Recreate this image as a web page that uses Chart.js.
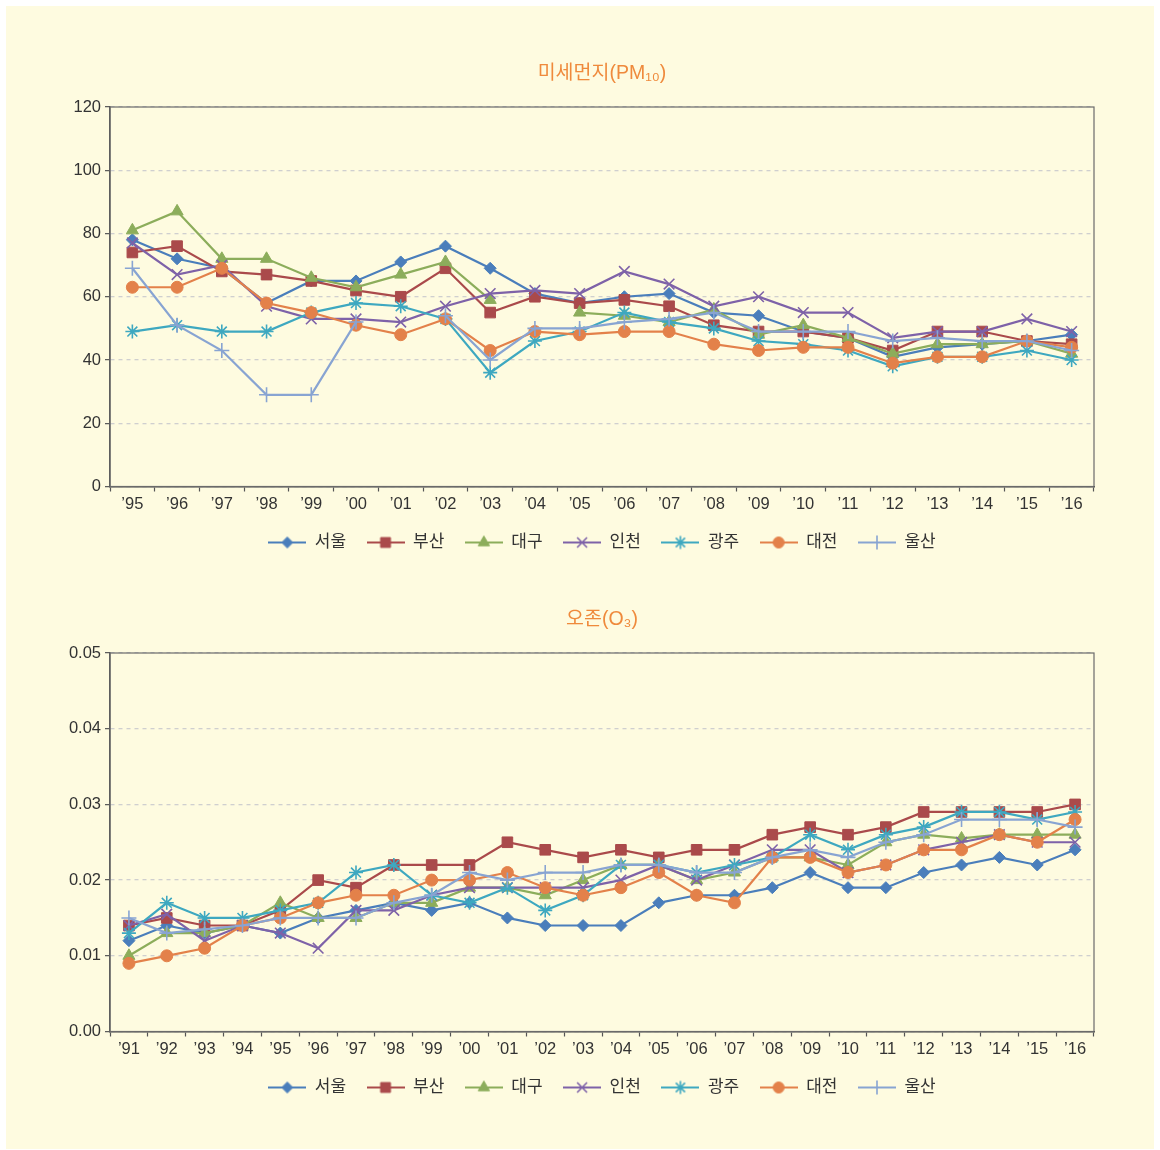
<!DOCTYPE html>
<html lang="ko">
<head>
<meta charset="utf-8">
<title>미세먼지·오존 연평균 농도</title>
<script src="https://cdn.jsdelivr.net/npm/chart.js@4.4.1/dist/chart.umd.min.js"></script>
<style>
  html, body { margin: 0; padding: 0; background: #ffffff; }
  body { width: 1160px; height: 1150px; position: relative; overflow: hidden; }
  #panel { position: absolute; left: 6px; top: 6px; width: 1148px; height: 1143px; background: #fefbe0; }
  #pm { position: absolute; left: 0; top: 0; }
  #o3 { position: absolute; left: 0; top: 560px; }
</style>
</head>
<body>
<div id="panel"></div>
<canvas id="pm" width="1160" height="561"></canvas>
<canvas id="o3" width="1160" height="546"></canvas>
<script>
// ---- data ----
const cities = ['서울', '부산', '대구', '인천', '광주', '대전', '울산'];

const pmYears = ['’95','’96','’97','’98','’99','’00','’01','’02','’03','’04','’05',
                 '’06','’07','’08','’09','’10','’11','’12','’13','’14','’15','’16'];
const pmSeoul   = [78, 72, 69, 58, 65, 65, 71, 76, 69, 61, 58, 60, 61, 55, 54, 49, 47, 41, 44, 45, 46, 48];
const pmBusan   = [74, 76, 68, 67, 65, 62, 60, 69, 55, 60, 58, 59, 57, 51, 49, 49, 47, 43, 49, 49, 46, 45];
const pmDaegu   = [81, 87, 72, 72, 66, 63, 67, 71, 59, null, 55, 54, 52, 56, 48, 51, 47, 42, 45, 45, 46, 42];
const pmIncheon = [77, 67, 70, 57, 53, 53, 52, 57, 61, 62, 61, 68, 64, 57, 60, 55, 55, 47, 49, 49, 53, 49];
const pmGwangju = [49, 51, 49, 49, 55, 58, 57, 53, 36, 46, 49, 55, 52, 50, 46, 45, 43, 38, 41, 41, 43, 40];
const pmDaejeon = [63, 63, 69, 58, 55, 51, 48, 53, 43, 49, 48, 49, 49, 45, 43, 44, 44, 39, 41, 41, 46, 44];
const pmUlsan   = [69, 51, 43, 29, 29, 52, null, 54, 40, 50, 50, 52, 53, 55, 49, 49, 49, 46, 47, 46, 46, 43];

const o3Years = ['’91','’92','’93','’94','’95','’96','’97','’98','’99','’00','’01','’02','’03',
                 '’04','’05','’06','’07','’08','’09','’10','’11','’12','’13','’14','’15','’16'];
const o3Seoul   = [0.012, 0.014, 0.013, 0.014, 0.013, 0.015, 0.016, 0.017, 0.016, 0.017, 0.015, 0.014, 0.014,
                   0.014, 0.017, 0.018, 0.018, 0.019, 0.021, 0.019, 0.019, 0.021, 0.022, 0.023, 0.022, 0.024];
const o3Busan   = [0.014, 0.015, 0.014, 0.014, 0.016, 0.020, 0.019, 0.022, 0.022, 0.022, 0.025, 0.024, 0.023,
                   0.024, 0.023, 0.024, 0.024, 0.026, 0.027, 0.026, 0.027, 0.029, 0.029, 0.029, 0.029, 0.030];
const o3Daegu   = [0.010, 0.013, 0.013, 0.014, 0.017, 0.015, 0.015, 0.017, 0.017, 0.019, 0.019, 0.018, 0.020,
                   0.022, 0.022, 0.020, 0.021, 0.023, 0.023, 0.022, 0.025, 0.026, 0.0255, 0.026, 0.026, 0.026];
const o3Incheon = [0.014, 0.0155, 0.012, 0.014, 0.013, 0.011, 0.016, 0.016, 0.018, 0.019, 0.019, 0.019, 0.019,
                   0.020, 0.022, 0.020, 0.022, 0.024, 0.024, 0.021, 0.022, 0.024, 0.025, 0.026, 0.025, 0.025];
const o3Gwangju = [0.013, 0.017, 0.015, 0.015, 0.016, 0.017, 0.021, 0.022, 0.018, 0.017, 0.019, 0.016, 0.018,
                   0.022, 0.022, 0.021, 0.022, 0.023, 0.026, 0.024, 0.026, 0.027, 0.029, 0.029, 0.028, 0.029];
const o3Daejeon = [0.009, 0.010, 0.011, 0.014, 0.015, 0.017, 0.018, 0.018, 0.020, 0.020, 0.021, 0.019, 0.018,
                   0.019, 0.021, 0.018, 0.017, 0.023, 0.023, 0.021, 0.022, 0.024, 0.024, 0.026, 0.025, 0.028];
const o3Ulsan   = [0.015, 0.013, 0.0135, 0.014, 0.015, 0.015, 0.015, 0.017, 0.018, 0.021, 0.020, 0.021, 0.021,
                   0.022, 0.022, 0.021, 0.021, 0.023, 0.024, 0.023, 0.025, 0.026, 0.028, 0.028, 0.028, 0.027];

// ---- styling ----
const FONT = "'Liberation Sans', 'Noto Sans CJK KR', 'DejaVu Sans', sans-serif";
const colors = ['#4a7ebb', '#aa4a4b', '#8cad5b', '#7e62a8', '#3ea8c0', '#e3814a', '#88a4d2'];
const marks = [
  { style: 'rectRot',  r: 6,   bw: 1 },
  { style: 'rect',     r: 7.5, bw: 1 },
  { style: 'triangle', r: 7,   bw: 1 },
  { style: 'crossRot', r: 7.5, bw: 1.6 },
  { style: 'star',     r: 7,   bw: 1.6 },
  { style: 'circle',   r: 6,   bw: 1 },
  { style: 'cross',    r: 7.5, bw: 1.6 }
];

// legend symbol: a short line with the series marker in its middle
function legendIcon(i) {
  const c = document.createElement('canvas');
  c.width = 38; c.height = 16;
  const g = c.getContext('2d');
  g.strokeStyle = colors[i];
  g.fillStyle = colors[i];
  g.lineWidth = 2.2;
  g.beginPath(); g.moveTo(0, 8); g.lineTo(38, 8); g.stroke();
  g.lineWidth = marks[i].bw;
  Chart.helpers.drawPoint(g, { pointStyle: marks[i].style, radius: marks[i].r - 0.5, borderWidth: marks[i].bw, rotation: 0 }, 19, 8);
  return c;
}
const icons = cities.map((_, i) => legendIcon(i));

// plot frame (top and right edges included)
const frame = {
  id: 'frame',
  beforeDatasetsDraw(chart) {
    const { ctx, chartArea: a } = chart;
    ctx.save();
    ctx.strokeStyle = '#6a6a6a';
    ctx.lineWidth = 1.2;
    ctx.strokeRect(a.left, a.top, a.width, a.height);
    ctx.restore();
  }
};

// keep title and legend centred over the plot area
const centerBlocks = {
  id: 'centerBlocks',
  afterLayout(chart) {
    const { left, right } = chart.chartArea;
    [chart.titleBlock, chart.legend].forEach(b => {
      if (b) { b.left = left; b.right = right; b.width = right - left; }
    });
  }
};

function makeChart(id, cfg) {
  return new Chart(document.getElementById(id), {
    type: 'line',
    data: {
      labels: cfg.labels,
      datasets: cfg.series.map((vals, i) => ({
        label: cities[i],
        data: vals,
        borderColor: colors[i],
        backgroundColor: colors[i],
        borderWidth: 2.2,
        pointStyle: marks[i].style,
        pointRadius: marks[i].r,
        pointHoverRadius: marks[i].r,
        pointBackgroundColor: colors[i],
        pointBorderColor: colors[i],
        pointBorderWidth: marks[i].bw,
        tension: 0,
        spanGaps: false,
        order: cities.length - i
      }))
    },
    options: {
      responsive: false,
      animation: false,
      events: [],
      layout: { padding: { left: 0, right: 66, top: 0, bottom: 0 } },
      plugins: {
        title: {
          display: true,
          text: cfg.title,
          color: '#ef8a3c',
          font: { family: FONT, size: 19.5, weight: 'normal' },
          padding: { top: cfg.titleTop, bottom: 21.3 }
        },
        legend: {
          position: 'bottom',
          labels: {
            usePointStyle: true,
            pointStyleWidth: 38,
            padding: 20.5,
            color: '#333333',
            font: { family: FONT, size: 17 },
            generateLabels: chart => chart.data.datasets.map((ds, i) => ({
              text: ds.label,
              pointStyle: icons[i],
              fillStyle: 'rgba(0,0,0,0)',
              strokeStyle: 'rgba(0,0,0,0)',
              lineWidth: 0,
              hidden: false,
              datasetIndex: i,
              fontColor: '#333333'
            }))
          }
        },
        tooltip: { enabled: false }
      },
      scales: {
        x: {
          offset: true,
          grid: { display: true, offset: true, drawOnChartArea: false, drawTicks: true,
                  tickLength: 5, tickColor: '#555555', tickWidth: 1.2 },
          border: { color: '#4d4d4d', width: 1.5 },
          ticks: { color: '#333333', font: { family: FONT, size: 16.5 }, padding: 3,
                   autoSkip: false, maxRotation: 0 },
          afterFit: s => { s.height = 27; }
        },
        y: {
          min: cfg.min, max: cfg.max,
          ticks: { stepSize: cfg.step, color: '#333333', font: { family: FONT, size: 16.5 },
                   padding: 4, callback: cfg.fmt },
          grid: { color: '#cfcfcf', lineWidth: 1.3, tickLength: 5, tickColor: '#555555',
                  tickWidth: 1.2, tickBorderDash: [] },
          border: { color: '#4d4d4d', width: 1.5, dash: [4, 4] },
          afterFit: s => { s.width = 110; }
        }
      }
    },
    plugins: [frame, centerBlocks]
  });
}

makeChart('pm', {
  title: '미세먼지(PM₁₀)',
  titleTop: 62.3,
  labels: pmYears,
  series: [pmSeoul, pmBusan, pmDaegu, pmIncheon, pmGwangju, pmDaejeon, pmUlsan],
  min: 0, max: 120, step: 20,
  fmt: v => String(v)
});

makeChart('o3', {
  title: '오존(O₃)',
  titleTop: 48.3,
  labels: o3Years,
  series: [o3Seoul, o3Busan, o3Daegu, o3Incheon, o3Gwangju, o3Daejeon, o3Ulsan],
  min: 0, max: 0.05, step: 0.01,
  fmt: v => Number(v).toFixed(2)
});
</script>
</body>
</html>
